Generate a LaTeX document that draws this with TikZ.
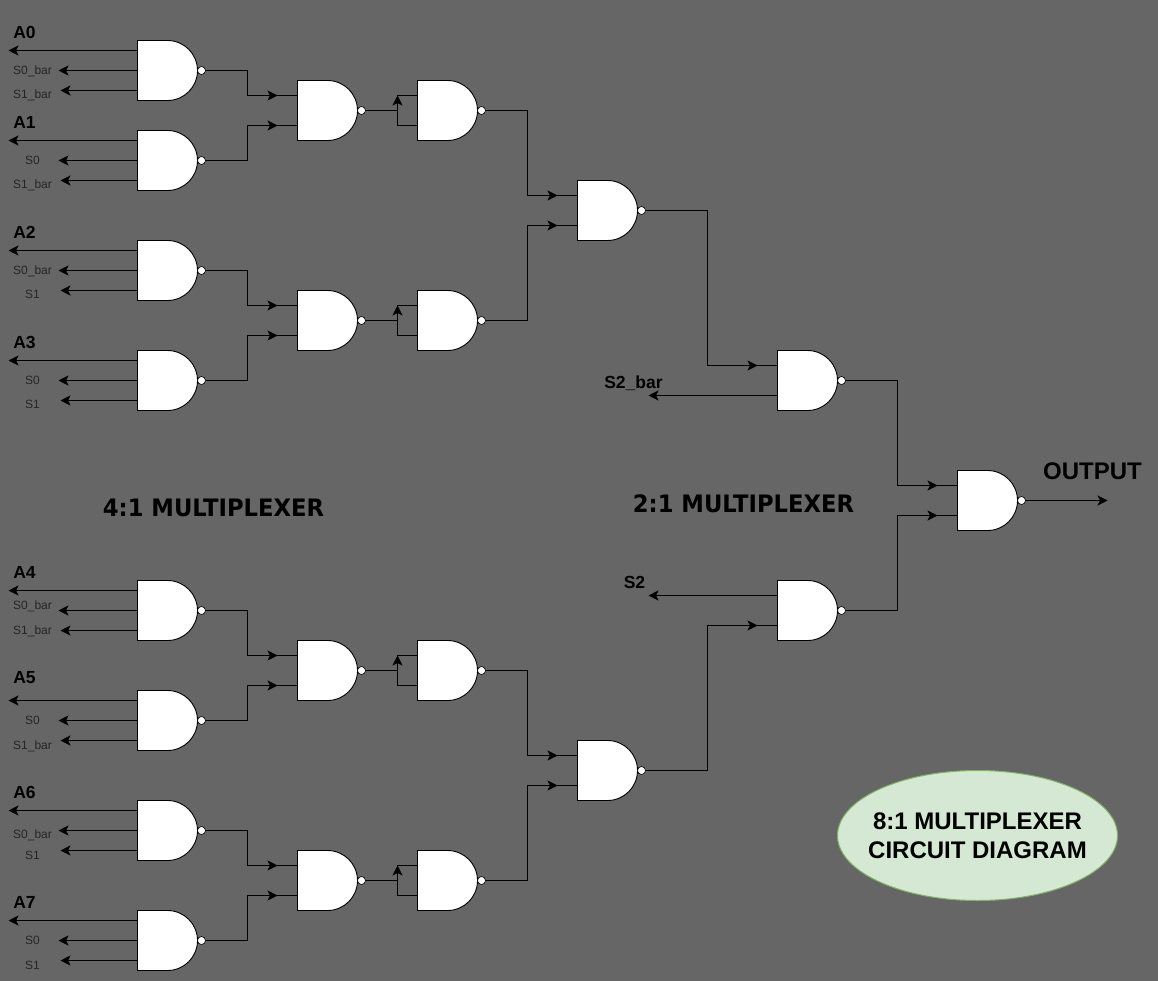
\documentclass[tikz,border=0pt]{standalone}
\usepackage{fontspec}
\setmainfont{Liberation Sans}
\newfontfamily\handfont[FakeStretch=0.945]{DejaVu Sans Bold}
\usetikzlibrary{arrows.meta,calc,shapes.geometric}
\definecolor{bg}{HTML}{666666}
\definecolor{ovalfill}{HTML}{D5E8D4}
\definecolor{ovalline}{HTML}{82B366}
\tikzset{
  x=1pt,y=-1pt,
  wire/.style={draw=black,line width=0.9pt},
  tip/.style={wire,-{Stealth[length=10pt,width=10pt,inset=2.5pt]}},
  gatebody/.style={draw=black,fill=white,line width=0.9pt},
  bubble/.style={draw=black,fill=white,line width=0.6pt},
  biglabel/.style={inner sep=0pt,text height=11.5pt,text depth=0pt,font=\fontsize{17.5}{20}\selectfont\bfseries},
  smalllabel/.style={inner sep=0pt,text height=7.2pt,text depth=0pt,font=\fontsize{12}{14}\selectfont,text=black!85},
  midlabel/.style={inner sep=0pt,text height=11.5pt,text depth=0pt,font=\fontsize{17.5}{20}\selectfont\bfseries},
  handlabel/.style={inner sep=0pt,font=\handfont\fontsize{24}{28}\selectfont},
  outlabel/.style={inner sep=0pt,font=\fontsize{24}{26}\selectfont\bfseries},
  oval/.style={ellipse,draw=ovalline,fill=ovalfill,line width=1pt,minimum width=280pt,minimum height=130pt,inner sep=0pt},
  ovaltext/.style={inner sep=0pt,align=center,font=\fontsize{24}{28.5}\selectfont\bfseries}
}
\newcommand{\nandgate}[3]{%
  \path[gatebody] (#2,#3) -- ++(30,0) arc[start angle=90,end angle=-90,x radius=30pt,y radius=30pt] -- ++(-30,0) -- cycle;
  \path[bubble] (#2+64,#3+30) circle[radius=4pt];
  \coordinate (#1-1) at (#2,#3+10);
  \coordinate (#1-2) at (#2,#3+30);
  \coordinate (#1-3) at (#2,#3+50);
  \coordinate (#1-u) at (#2,#3+15);
  \coordinate (#1-l) at (#2,#3+45);
  \coordinate (#1-o) at (#2+68,#3+30);
}
\newcommand{\inputgate}[7]{%
  \nandgate{i#1}{137}{#2}
  \coordinate (ea#1) at (8,#2+10);
  \coordinate (eb#1) at (58,#2+30);
  \coordinate (ec#1) at (60,#2+50);
  \draw[tip] (i#1-1) -- (ea#1);
  \draw[tip] (i#1-2) -- (eb#1);
  \draw[tip] (i#1-3) -- (ec#1);
  \node[biglabel] (la#1) at (24,#3) {A#1};
  \node[smalllabel] (lb#1) at (32,#5) {#4};
  \node[smalllabel] (lc#1) at (32,#7) {#6};
}
\newcommand{\pairstage}[4]{%
  \nandgate{m#1}{297}{#2}
  \nandgate{n#1}{417}{#2}
  \draw[wire] (i#3-o) -| ($(m#1-u)+(-50,0)$) -- (m#1-u);
  \draw[wire] (i#4-o) -| ($(m#1-l)+(-50,0)$) -- (m#1-l);
  \draw[tip] ($(m#1-u)+(-30,0)$) -- ($(m#1-u)+(-20,0)$);
  \draw[tip] ($(m#1-l)+(-30,0)$) -- ($(m#1-l)+(-20,0)$);
  \coordinate (j#1) at ($(n#1-u)!0.5!(n#1-l)+(-20,0)$);
  \draw[wire] (m#1-o) -- (j#1);
  \draw[wire] (n#1-l) -| (j#1);
  \draw[wire] (n#1-u) -| (j#1);
  \draw[tip] ($(n#1-u)+(-20,10)$) -- ($(n#1-u)+(-20,0)$);
}
\begin{document}
\begin{tikzpicture}
\path[use as bounding box,fill=bg] (0,0) rectangle (1158,981);
\begin{scope}[xshift=0.5pt,yshift=-0.5pt]

\inputgate{0}{40}{32}{S0\_bar}{70}{S1\_bar}{94}
\inputgate{1}{130}{122}{S0}{160}{S1\_bar}{184}
\inputgate{2}{240}{232}{S0\_bar}{270}{S1}{294}
\inputgate{3}{350}{342}{S0}{380}{S1}{404}
\inputgate{4}{580}{572}{S0\_bar}{605}{S1\_bar}{630}
\inputgate{5}{690}{677}{S0}{720}{S1\_bar}{745}
\inputgate{6}{800}{792}{S0\_bar}{834}{S1}{855}
\inputgate{7}{910}{902}{S0}{940}{S1}{965}

\pairstage{a}{80}{0}{1}
\pairstage{b}{290}{2}{3}
\pairstage{c}{640}{4}{5}
\pairstage{d}{850}{6}{7}

\nandgate{p}{577}{180}
\nandgate{q}{577}{740}
\draw[wire] (na-o) -| ($(p-u)+(-50,0)$) -- (p-u);
\draw[wire] (nb-o) -| ($(p-l)+(-50,0)$) -- (p-l);
\draw[wire] (nc-o) -| ($(q-u)+(-50,0)$) -- (q-u);
\draw[wire] (nd-o) -| ($(q-l)+(-50,0)$) -- (q-l);
\draw[tip] ($(p-u)+(-30,0)$) -- ($(p-u)+(-20,0)$);
\draw[tip] ($(p-l)+(-30,0)$) -- ($(p-l)+(-20,0)$);
\draw[tip] ($(q-u)+(-30,0)$) -- ($(q-u)+(-20,0)$);
\draw[tip] ($(q-l)+(-30,0)$) -- ($(q-l)+(-20,0)$);

\nandgate{r}{777}{350}
\nandgate{s}{777}{580}
\draw[wire] (p-o) -| ($(r-u)+(-70,0)$) -- (r-u);
\draw[wire] (q-o) -| ($(s-l)+(-70,0)$) -- (s-l);
\draw[tip] ($(r-u)+(-30,0)$) -- ($(r-u)+(-20,0)$);
\draw[tip] ($(s-l)+(-30,0)$) -- ($(s-l)+(-20,0)$);
\coordinate (es2b) at (648,395);
\coordinate (es2) at (648,595);
\draw[tip] (r-l) -- (es2b);
\draw[tip] (s-u) -- (es2);

\nandgate{t}{957}{470}
\draw[wire] (r-o) -| ($(t-u)+(-60,0)$) -- (t-u);
\draw[wire] (s-o) -| ($(t-l)+(-60,0)$) -- (t-l);
\draw[tip] ($(t-u)+(-30,0)$) -- ($(t-u)+(-20,0)$);
\draw[tip] ($(t-l)+(-30,0)$) -- ($(t-l)+(-20,0)$);
\coordinate (eout) at (1107,500);
\draw[tip] (t-o) -- (eout);

\node[midlabel] (ls2b) at (633,382) {S2\_bar};
\node[midlabel] (ls2) at (634,582) {S2};
\node[outlabel] (lout) at (1092,471) {OUTPUT};
\node[handlabel] (l41) at (213,507) {4:1 MULTIPLEXER};
\node[handlabel] (l21) at (743,503) {2:1 MULTIPLEXER};
\node[oval] (title) at (977,835) {};
\node[ovaltext] (titletext) at (title.center) {8:1 MULTIPLEXER\\CIRCUIT DIAGRAM};
\end{scope}
\end{tikzpicture}
\end{document}
